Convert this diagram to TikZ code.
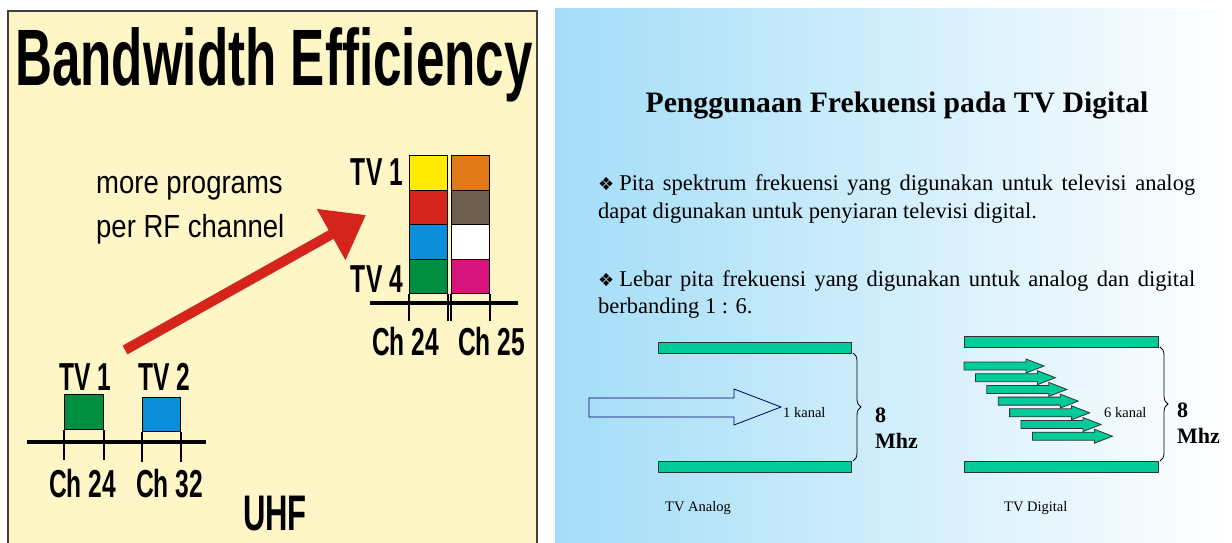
\documentclass[tikz,border=0pt]{standalone}
\usepackage{fontspec}
\setmainfont{Liberation Serif}
\setsansfont{Liberation Sans}
\newfontfamily\symfont{DejaVu Sans}
\usetikzlibrary{arrows.meta,decorations.pathreplacing}

\definecolor{panel}{RGB}{255,246,199}
\definecolor{sky}{RGB}{163,221,247}
\definecolor{tvred}{RGB}{212,36,27}
\definecolor{tvyellow}{RGB}{255,236,0}
\definecolor{tvblue}{RGB}{12,143,219}
\definecolor{tvgreen}{RGB}{0,142,64}
\definecolor{tvorange}{RGB}{226,121,24}
\definecolor{tvbrown}{RGB}{110,95,78}
\definecolor{tvpink}{RGB}{215,19,124}
\definecolor{band}{RGB}{0,204,153}

\newcommand\bul{{\symfont\fontsize{18}{18}\selectfont ❖}\hspace{5pt}}

\tikzset{
  txt/.style={inner sep=0, anchor=base west},
  chlabel/.style={txt, font=\sffamily\bfseries\fontsize{39}{39}\selectfont, xscale=0.63},
  chbox/.style={draw=black, line width=1pt, inner sep=0, anchor=north west,
                minimum width=38pt, minimum height=34.5pt},
  chtick/.style={line width=1.2pt},
  bar/.style={draw=black!80, fill=band, line width=0.8pt},
  body/.style={txt, font=\fontsize{22.5}{22.5}\selectfont},
  small/.style={txt, font=\fontsize{14.5}{14.5}\selectfont},
  mhz/.style={txt, font=\bfseries\fontsize{22}{22}\selectfont}
}

\begin{document}
\begin{tikzpicture}[x=1pt, y=-1pt]

  \useasboundingbox (0,0) rectangle (1232,543);

  % left panel
  \draw [fill=panel, draw=black!75, line width=1.2pt] (8,543) -- (8,11) -- (537,11) -- (537,543);
  \node [txt, font=\sffamily\bfseries\fontsize{80}{80}\selectfont, xscale=0.64] (title) at (15,85) {Bandwidth Efficiency};

  \node [txt, font=\sffamily\fontsize{32}{32}\selectfont, xscale=0.86] (more) at (96,193) {more programs};
  \node [txt, font=\sffamily\fontsize{32}{32}\selectfont, xscale=0.86] (per) at (96,237) {per RF channel};

  \coordinate (arrtail) at (125,350);
  \coordinate (arrtip) at (366,215);
  \draw [tvred, line width=10pt, -{Triangle[length=40pt,width=56pt]}] (arrtail) -- (arrtip);

  % analog channels
  \node [chlabel] (tv1) at (59,390) {TV 1};
  \node [chlabel] (tv2) at (138,390) {TV 2};
  \node [chbox, fill=tvgreen, minimum width=39pt, minimum height=35pt] (g24) at (64,394) {};
  \node [chbox, fill=tvblue, minimum height=34pt] (b32) at (142,397) {};
  \draw [line width=4pt] (27,442) -- (206,442);
  \foreach \b in {g24,b32} {
    \draw [chtick] (\b.south west) -- ++(0,30);
    \draw [chtick] (\b.south east) -- ++(0,30);
  }
  \node [chlabel] (ch24) at (49,497) {Ch 24};
  \node [chlabel] (ch32) at (136,497) {Ch 32};
  \node [txt, font=\sffamily\bfseries\fontsize{50}{50}\selectfont, xscale=0.62] (uhf) at (243,530) {UHF};

  % digital channels
  \foreach \c [count=\k from 0] in {tvyellow,tvred,tvblue,tvgreen}
    \node [chbox, fill=\c] (a\k) at (409,{155+34.5*\k}) {};
  \foreach \c [count=\k from 0] in {tvorange,tvbrown,white,tvpink}
    \node [chbox, fill=\c] (c\k) at (451,{155+34.5*\k}) {};
  \draw [line width=4pt] (370,303) -- (518,303);
  \foreach \b in {a3,c3} {
    \draw [chtick] (\b.south west) -- ++(0,27);
    \draw [chtick] (\b.south east) -- ++(0,27);
  }
  \node [chlabel, anchor=base east] (tvtop) at (403,185) {TV 1};
  \node [chlabel, anchor=base east] (tvbot) at (403,292) {TV 4};
  \node [chlabel] (dch24) at (372,355) {Ch 24};
  \node [chlabel] (dch25) at (458,355) {Ch 25};

  % right panel
  \fill [left color=sky, right color=white] (555,9) rectangle (1232,543);
  \node [inner sep=0, anchor=base, font=\bfseries\fontsize{29.7}{29.7}\selectfont] (head) at (897,113) {Penggunaan Frekuensi pada TV Digital};

  \node [body] (p1a) at (598,190) {\makebox[597pt][s]{\bul Pita spektrum frekuensi yang digunakan untuk televisi analog}};
  \node [body] (p1b) at (598,218) {dapat digunakan untuk penyiaran televisi digital.};
  \node [body] (p2a) at (598,286) {\makebox[597pt][s]{\bul Lebar pita frekuensi yang digunakan untuk analog dan digital}};
  \node [body] (p2b) at (598,313) {berbanding 1 : 6.};

  % analog band
  \draw [bar] (658,342) rectangle (851,353);
  \draw [bar] (658,461) rectangle (851,472);
  \draw [decorate, decoration={brace, amplitude=8pt}, line width=0.8pt] (853,353) -- (853,461);
  \draw [line width=0.8pt, draw=black!60!blue] (589,398) -- (734,398) -- (734,389) -- (781,407)
        -- (734,425) -- (734,417) -- (589,417) -- cycle;
  \node [small] (kanal1) at (783,417) {1 kanal};
  \node [mhz] (eightA) at (875,422) {8};
  \node [mhz] (mhzA) at (875,448) {Mhz};
  \node [small] (analog) at (665,511) {TV Analog};

  % digital band
  \draw [bar] (964,336) rectangle (1158,347);
  \draw [bar] (964,461) rectangle (1158,472);
  \draw [decorate, decoration={brace, amplitude=8pt}, line width=0.8pt] (1160,347) -- (1160,461);
  \foreach \i in {0,...,6}
    \draw [bar, shift={({964+11.4*\i},{366+11.7*\i})}] (0,-4) -- (62,-4) -- (62,-7) -- (80,0)
          -- (62,7) -- (62,4) -- (0,4) -- cycle;
  \node [small] (kanal6) at (1104,417) {6 kanal};
  \node [mhz] (eightD) at (1177,417) {8};
  \node [mhz] (mhzD) at (1177,443) {Mhz};
  \node [small] (digital) at (1004,511) {TV Digital};

\end{tikzpicture}
\end{document}
